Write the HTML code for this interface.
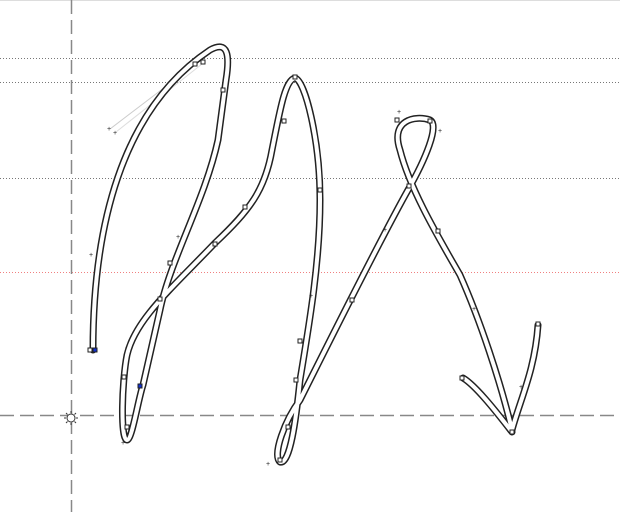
<!DOCTYPE html>
<html><head><meta charset="utf-8"><style>
html,body{margin:0;padding:0;background:#fff;}
svg{display:block;}
</style></head><body>
<svg width="620" height="512" viewBox="0 0 620 512">
<rect x="0" y="0" width="620" height="512" fill="#fff"/>
<line x1="0" y1="0.5" x2="620" y2="0.5" stroke="#ddd"/>
<line x1="0" y1="58.5" x2="620" y2="58.5" stroke="#777" stroke-dasharray="1,2"/>
<line x1="0" y1="82.5" x2="620" y2="82.5" stroke="#777" stroke-dasharray="1,2"/>
<line x1="0" y1="178.5" x2="620" y2="178.5" stroke="#777" stroke-dasharray="1,2"/>
<line x1="0" y1="272.5" x2="620" y2="272.5" stroke="#f08080" stroke-dasharray="1,2"/>
<line x1="0" y1="415.5" x2="620" y2="415.5" stroke="#888" stroke-width="1.5" stroke-dasharray="14,6"/>
<line x1="71.5" y1="0" x2="71.5" y2="512" stroke="#888" stroke-width="1.5" stroke-dasharray="14,6"/>
<g>
<circle cx="71" cy="418" r="4" fill="#fff" stroke="#333"/>
<g stroke="#333" stroke-width="1"><line x1="64" y1="418" x2="66" y2="418"/><line x1="76" y1="418" x2="78" y2="418"/><line x1="71" y1="411" x2="71" y2="413"/><line x1="71" y1="423" x2="71" y2="425"/><line x1="66" y1="413" x2="67.5" y2="414.5"/><line x1="76" y1="413" x2="74.5" y2="414.5"/><line x1="66" y1="423" x2="67.5" y2="421.5"/><line x1="76" y1="423" x2="74.5" y2="421.5"/></g>
</g>
<line x1="110" y1="129" x2="198" y2="62" stroke="#ccc" stroke-width="1"/>
<line x1="116" y1="132" x2="202" y2="64" stroke="#ddd" stroke-width="1"/>
<g fill="none" stroke-linecap="round" stroke-linejoin="round">
<path id="p1" d="M93,350 C93,230 120,110 210,50 C228,40 230,55 226,80 L218,140 C205,200 170,260 160,310 L143,385 C138,400 132,440 127,440 C120,440 122,380 127,355 C135,320 170,290 215,243 C250,210 265,190 272,150 C280,110 285,80 295,78 C305,80 320,140 320,200 C320,260 310,320 300,380 C296,420 290,465 280,462 C272,455 285,420 300,400 C330,340 380,240 408,190 C425,160 440,125 430,120 C415,115 390,120 400,150 C410,190 440,240 460,275 C480,320 500,380 512,430 C520,400 535,370 538,325" stroke="#222" stroke-width="7"/>
<path d="M463,378 C475,385 495,410 512,432" stroke="#222" stroke-width="7"/>
<path d="M93,350 C93,230 120,110 210,50 C228,40 230,55 226,80 L218,140 C205,200 170,260 160,310 L143,385 C138,400 132,440 127,440 C120,440 122,380 127,355 C135,320 170,290 215,243 C250,210 265,190 272,150 C280,110 285,80 295,78 C305,80 320,140 320,200 C320,260 310,320 300,380 C296,420 290,465 280,462 C272,455 285,420 300,400 C330,340 380,240 408,190 C425,160 440,125 430,120 C415,115 390,120 400,150 C410,190 440,240 460,275 C480,320 500,380 512,430 C520,400 535,370 538,325" stroke="#fff" stroke-width="4"/>
<path d="M463,378 C475,385 495,410 512,432" stroke="#fff" stroke-width="4"/>
</g>
<g fill="#fff" stroke="#222" stroke-width="1">
<rect x="88" y="348" width="4" height="4"/><rect x="93" y="348" width="4" height="4" fill="#1030d0"/>
<rect x="193" y="62" width="4" height="4"/><rect x="201" y="60" width="4" height="4"/>
<rect x="221" y="88" width="4" height="4"/><rect x="168" y="261" width="4" height="4"/>
<rect x="158" y="297" width="4" height="4"/><rect x="138" y="384" width="4" height="4" fill="#1030d0"/>
<rect x="122" y="375" width="4" height="4"/><rect x="125" y="425" width="4" height="4"/>
<rect x="213" y="242" width="4" height="4"/><rect x="243" y="205" width="4" height="4"/>
<rect x="282" y="119" width="4" height="4"/><rect x="293" y="75" width="4" height="4"/>
<rect x="318" y="188" width="4" height="4"/><rect x="298" y="339" width="4" height="4"/>
<rect x="294" y="378" width="4" height="4"/><rect x="286" y="425" width="4" height="4"/>
<rect x="278" y="458" width="4" height="4"/><rect x="350" y="298" width="4" height="4"/>
<rect x="407" y="184" width="4" height="4"/><rect x="395" y="118" width="4" height="4"/>
<rect x="428" y="119" width="4" height="4"/><rect x="436" y="229" width="4" height="4"/>
<rect x="460" y="376" width="4" height="4"/><rect x="510" y="430" width="4" height="4"/>
<rect x="536" y="322" width="4" height="4"/>
</g>
<g fill="#222" font-family="Liberation Sans, sans-serif" font-size="7">
<text x="107" y="131">+</text><text x="113" y="135">+</text><text x="89" y="257">+</text>
<text x="397" y="114">+</text><text x="438" y="133">+</text><text x="266" y="466">+</text>
<text x="121" y="445">+</text><text x="519" y="389">+</text><text x="176" y="239">+</text>
<text x="309" y="298">+</text><text x="472" y="311">+</text><text x="383" y="232">+</text>
</g>
</svg>
</body></html>
